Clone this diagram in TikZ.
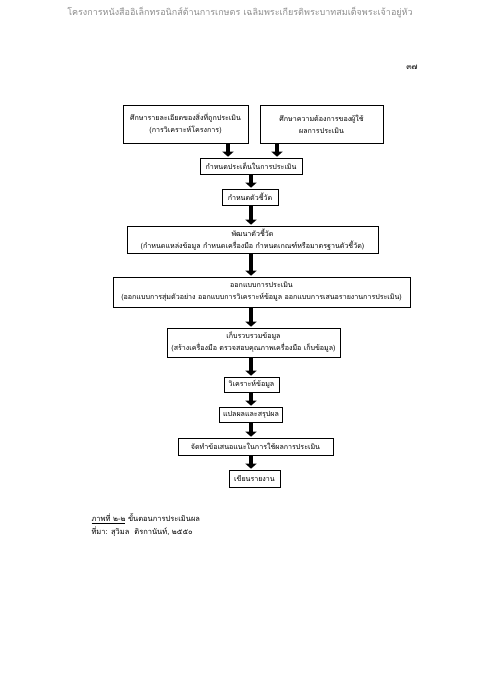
\documentclass[tikz,border=0pt]{standalone}
\usepackage{fontspec}
\newfontfamily\thaifont[Script=Thai]{Loma}
\usetikzlibrary{arrows.meta}
\begin{document}
\begin{tikzpicture}[x=1pt,y=-1pt,font=\thaifont\fontsize{7.1}{12}\selectfont,
		box/.style={draw,line width=0.6pt,align=center,inner sep=0pt},
		blk/.style={line width=3.2pt,-{Triangle[width=11pt,length=5pt]},shorten >=1pt}]
	\useasboundingbox (0,0) rectangle (480,679);
	\node[black!45,font=\thaifont\fontsize{9}{10}\selectfont] (hdr) at (240,13) {โครงการหนังสืออิเล็กทรอนิกส์ด้านการเกษตร เฉลิมพระเกียรติพระบาทสมเด็จพระเจ้าอยู่หัว};
	\node[font=\thaifont\fontsize{8}{10}\selectfont] (pg) at (412,67) {๓๗};
	% two starting boxes
	\node[box,minimum width=125pt,minimum height=38pt] (b1) at (185.5,124) {ศึกษารายละเอียดของสิ่งที่ถูกประเมิน\\(การวิเคราะห์โครงการ)};
	\node[box,minimum width=123pt,minimum height=38pt] (b2) at (321.5,124) {ศึกษาความต้องการของผู้ใช้\\ผลการประเมิน};
	\node[box,minimum width=102pt,minimum height=16pt] (b3) at (251,166) {กำหนดประเด็นในการประเมิน};
	\node[box,minimum width=56pt,minimum height=16pt] (b4) at (250,197) {กำหนดตัวชี้วัด};
	\node[box,minimum width=251pt,minimum height=27pt] (b5) at (252.5,239.5) {พัฒนาตัวชี้วัด\\(กำหนดแหล่งข้อมูล กำหนดเครื่องมือ กำหนดเกณฑ์หรือมาตรฐานตัวชี้วัด)};
	\node[box,minimum width=297pt,minimum height=30pt] (b6) at (261.5,292) {ออกแบบการประเมิน\\(ออกแบบการสุ่มตัวอย่าง ออกแบบการวิเคราะห์ข้อมูล ออกแบบการเสนอรายงานการประเมิน)};
	\node[box,minimum width=173pt,minimum height=29pt] (b7) at (253.5,342.5) {เก็บรวบรวมข้อมูล\\(สร้างเครื่องมือ ตรวจสอบคุณภาพเครื่องมือ เก็บข้อมูล)};
	\node[box,minimum width=55pt,minimum height=15pt] (b8) at (251.5,384.5) {วิเคราะห์ข้อมูล};
	\node[box,minimum width=63pt,minimum height=15pt] (b9) at (251,414.5) {แปลผลและสรุปผล};
	\node[box,minimum width=155pt,minimum height=17pt] (b10) at (255.5,446.5) {จัดทำข้อเสนอแนะในการใช้ผลการประเมิน};
	\node[box,minimum width=51pt,minimum height=17pt] (b11) at (254.5,478.5) {เขียนรายงาน};
	% arrows
	\draw[blk] (b1.south -| 228,0) -- (b3.north -| 228,0);
	\draw[blk] (b2.south -| 277,0) -- (b3.north -| 277,0);
	\draw[blk] (b3.south -| 251,0) -- (b4.north -| 251,0);
	\draw[blk] (b4.south -| 251,0) -- (b5.north -| 251,0);
	\draw[blk] (b5.south -| 251,0) -- (b6.north -| 251,0);
	\draw[blk] (b6.south -| 251,0) -- (b7.north -| 251,0);
	\draw[blk] (b7.south -| 251,0) -- (b8.north -| 251,0);
	\draw[blk] (b8.south -| 251,0) -- (b9.north -| 251,0);
	\draw[blk] (b9.south -| 251,0) -- (b10.north -| 251,0);
	\draw[blk] (b10.south -| 251,0) -- (b11.north -| 251,0);
	% caption
	\node[anchor=west,font=\thaifont\fontsize{7.5}{13}\selectfont,align=left] (cap) at (88,525) {\underline{ภาพที่ ๒-๒} ขั้นตอนการประเมินผล\\ที่มา: สุวิมล\ \ ติรกานันท์, ๒๕๕๐};
\end{tikzpicture}
\end{document}
